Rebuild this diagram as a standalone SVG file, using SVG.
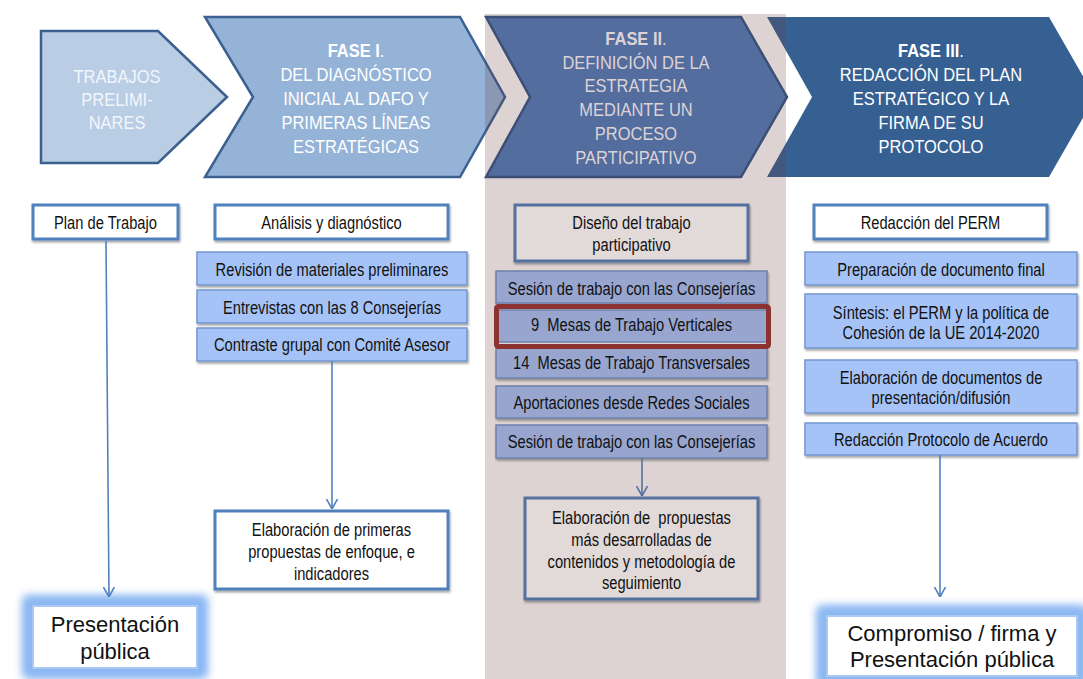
<svg xmlns="http://www.w3.org/2000/svg" width="1083" height="679" viewBox="0 0 1083 679">
<style>
.ch{font-family:"Liberation Sans",Arial,sans-serif;font-size:18.5px;fill:#ffffff;text-anchor:middle}
.ch2{fill:#ddd3d5}
.b{font-weight:bold}
.tx{font-family:"Liberation Sans",Arial,sans-serif;font-size:17.5px;fill:#111111;text-anchor:middle}
.pre{white-space:pre}
.big{font-family:"Liberation Sans",Arial,sans-serif;font-size:22px;fill:#111111;text-anchor:middle}
.wbox{fill:#ffffff;stroke:#4f81bd;stroke-width:3}
.wbox2{fill:#e2d9d9;stroke:#5571a0;stroke-width:3}
.lbox{fill:#a5c3f6;stroke:#7396cf;stroke-width:1.5}
.lbox2{fill:#98a6cf;stroke:#6e80ad;stroke-width:1.5}
.gbox{fill:#ffffff;stroke:#a9c9f3;stroke-width:2}
.cn{fill:none;stroke:#4f81bd;stroke-width:1.6}
.cn2{fill:none;stroke:#5571a0;stroke-width:1.6}
</style>
<defs>
<filter id="sh" x="-10%" y="-20%" width="125%" height="160%">
<feDropShadow dx="1" dy="2" stdDeviation="1.2" flood-color="#000" flood-opacity="0.35"/>
</filter>
<filter id="glow" x="-30%" y="-60%" width="160%" height="220%">
<feMorphology in="SourceAlpha" operator="dilate" radius="8" result="d"/>
<feGaussianBlur in="d" stdDeviation="5" result="bl"/>
<feFlood flood-color="#8db8f2"/>
<feComposite in2="bl" operator="in" result="g"/>
<feMerge><feMergeNode in="g"/><feMergeNode in="g"/><feMergeNode in="SourceGraphic"/></feMerge>
</filter>
<marker id="ah" viewBox="0 0 10 12" refX="10" refY="6" markerWidth="10" markerHeight="12" markerUnits="userSpaceOnUse" orient="auto">
<path d="M0,0.5 L10,6 L0,11.5" fill="none" stroke="#4f81bd" stroke-width="1.6"/>
</marker>
<marker id="ah2" viewBox="0 0 10 12" refX="10" refY="6" markerWidth="10" markerHeight="12" markerUnits="userSpaceOnUse" orient="auto">
<path d="M0,0.5 L10,6 L0,11.5" fill="none" stroke="#5571a0" stroke-width="1.6"/>
</marker>
</defs>
<rect width="1083" height="679" fill="#ffffff"/>

<g id="trabajos-preliminares">
<polygon points="41,31 158,31 227,97 158,163 41,163" fill="#b9cde5" stroke="#3b5f8e" stroke-width="2.5" stroke-linejoin="miter"/>
<text class="ch" style="fill:#f3f6fb" transform="matrix(0.89 0 0 1 117 0)"><tspan x="0" y="83">TRABAJOS</tspan><tspan x="0" y="106">PRELIMI-</tspan><tspan x="0" y="129">NARES</tspan></text>
</g>

<g id="fase-1">
<polygon points="205,17 460,17 505,97 460,177 205,177 253,97" fill="#95b3d7" stroke="#3c6090" stroke-width="2.5"/>
<text class="ch" transform="matrix(0.89 0 0 1 356 0)"><tspan x="0" y="57"><tspan class="b">FASE I</tspan>.</tspan><tspan x="0" y="81">DEL DIAGNÓSTICO</tspan><tspan x="0" y="105">INICIAL AL DAFO Y</tspan><tspan x="0" y="129">PRIMERAS LÍNEAS</tspan><tspan x="0" y="153">ESTRATÉGICAS</tspan></text>
</g>

<g id="fase-3">
<polygon points="767,17 1049,17 1095,97 1049,177 767,177 812,97" fill="#376092"/>
<text class="ch" transform="matrix(0.89 0 0 1 931 0)"><tspan x="0" y="57"><tspan class="b">FASE III</tspan>.</tspan><tspan x="0" y="81">REDACCIÓN DEL PLAN</tspan><tspan x="0" y="105">ESTRATÉGICO Y LA</tspan><tspan x="0" y="129">FIRMA DE SU</tspan><tspan x="0" y="153">PROTOCOLO</tspan></text>
</g>

<g id="fase-2-panel">
<rect x="485" y="14" width="301" height="665" fill="#683c3c" fill-opacity="0.226"/>
</g>

<g id="fase-2">
<polygon points="486,17 741,17 787,97 741,177 486,177 530,97" fill="#536d9f" stroke="#3d4f75" stroke-width="2.5"/>
<text class="ch ch2" transform="matrix(0.89 0 0 1 636 0)"><tspan x="0" y="45"><tspan class="b">FASE II</tspan>.</tspan><tspan x="0" y="69">DEFINICIÓN DE LA</tspan><tspan x="0" y="92.5">ESTRATEGIA</tspan><tspan x="0" y="116">MEDIANTE UN</tspan><tspan x="0" y="140">PROCESO</tspan><tspan x="0" y="164">PARTICIPATIVO</tspan></text>
</g>

<g id="plan-de-trabajo">
<rect class="wbox" x="33" y="205" width="145" height="34" filter="url(#sh)"/>
<text class="tx" transform="matrix(0.84 0 0 1 105.5 0)" x="0" y="229">Plan de Trabajo</text>
</g>

<g id="analisis">
<rect class="wbox" x="215" y="205" width="233" height="34" filter="url(#sh)"/>
<text class="tx" transform="matrix(0.84 0 0 1 331.5 0)" x="0" y="229">Análisis y diagnóstico</text>
</g>

<g id="revision">
<rect class="lbox" x="197" y="252" width="270" height="33" filter="url(#sh)"/>
<text class="tx" transform="matrix(0.84 0 0 1 332 0)" x="0" y="276">Revisión de materiales preliminares</text>
</g>
<g id="entrevistas">
<rect class="lbox" x="197" y="290" width="270" height="33" filter="url(#sh)"/>
<text class="tx" transform="matrix(0.84 0 0 1 332 0)" x="0" y="314">Entrevistas con las 8 Consejerías</text>
</g>
<g id="contraste">
<rect class="lbox" x="197" y="328" width="270" height="33" filter="url(#sh)"/>
<text class="tx" transform="matrix(0.84 0 0 1 332 0)" x="0" y="351">Contraste grupal con Comité Asesor</text>
</g>

<g id="elaboracion-primeras">
<rect class="wbox" x="215" y="511" width="233" height="78" filter="url(#sh)"/>
<text class="tx" transform="matrix(0.84 0 0 1 331.5 0)"><tspan x="0" y="536">Elaboración de primeras</tspan><tspan x="0" y="558">propuestas de enfoque, e</tspan><tspan x="0" y="580">indicadores</tspan></text>
</g>

<g id="diseno">
<rect class="wbox2" x="515" y="205" width="233" height="56" filter="url(#sh)"/>
<text class="tx" transform="matrix(0.84 0 0 1 631.5 0)"><tspan x="0" y="229">Diseño del trabajo</tspan><tspan x="0" y="251">participativo</tspan></text>
</g>

<g id="sesion-1">
<rect class="lbox2" x="496" y="271" width="271" height="32" filter="url(#sh)"/>
<text class="tx" transform="matrix(0.84 0 0 1 631.5 0)" x="0" y="295">Sesión de trabajo con las Consejerías</text>
</g>
<g id="mesas-14">
<rect class="lbox2" x="496" y="348" width="271" height="30" filter="url(#sh)"/>
<text class="tx pre" transform="matrix(0.84 0 0 1 631.5 0)" x="0" y="369">14  Mesas de Trabajo Transversales</text>
</g>
<g id="mesas-9">
<rect class="lbox2" x="496" y="310" width="271" height="32"/>
<rect x="496.5" y="306.5" width="272" height="40" rx="2" fill="none" stroke="#8c3231" stroke-width="5"/>
<text class="tx pre" transform="matrix(0.84 0 0 1 631.5 0)" x="0" y="331">9  Mesas de Trabajo Verticales</text>
</g>
<g id="aportaciones">
<rect class="lbox2" x="496" y="386" width="271" height="32" filter="url(#sh)"/>
<text class="tx" transform="matrix(0.84 0 0 1 631.5 0)" x="0" y="409">Aportaciones desde Redes Sociales</text>
</g>
<g id="sesion-2">
<rect class="lbox2" x="496" y="425" width="271" height="33" filter="url(#sh)"/>
<text class="tx" transform="matrix(0.84 0 0 1 631.5 0)" x="0" y="448">Sesión de trabajo con las Consejerías</text>
</g>

<g id="elaboracion-propuestas">
<rect class="wbox2" x="525" y="498" width="233" height="101" filter="url(#sh)"/>
<text class="tx pre" transform="matrix(0.84 0 0 1 641.5 0)"><tspan x="0" y="524">Elaboración de  propuestas</tspan><tspan x="0" y="546">más desarrolladas de</tspan><tspan x="0" y="568">contenidos y metodología de</tspan><tspan x="0" y="589">seguimiento</tspan></text>
</g>

<g id="redaccion-perm">
<rect class="wbox" x="814" y="205" width="233" height="34" filter="url(#sh)"/>
<text class="tx" transform="matrix(0.84 0 0 1 930.5 0)" x="0" y="229">Redacción del PERM</text>
</g>
<g id="preparacion">
<rect class="lbox" x="805" y="252" width="272" height="33" filter="url(#sh)"/>
<text class="tx" transform="matrix(0.84 0 0 1 941 0)" x="0" y="276">Preparación de documento final</text>
</g>
<g id="sintesis">
<rect class="lbox" x="805" y="294" width="272" height="54" filter="url(#sh)"/>
<text class="tx" transform="matrix(0.84 0 0 1 941 0)"><tspan x="0" y="319">Síntesis: el PERM y la política de</tspan><tspan x="0" y="339">Cohesión de la UE 2014-2020</tspan></text>
</g>
<g id="elaboracion-documentos">
<rect class="lbox" x="805" y="360" width="272" height="53" filter="url(#sh)"/>
<text class="tx" transform="matrix(0.84 0 0 1 941 0)"><tspan x="0" y="384">Elaboración de documentos de</tspan><tspan x="0" y="404">presentación/difusión</tspan></text>
</g>
<g id="redaccion-protocolo">
<rect class="lbox" x="805" y="423" width="272" height="32" filter="url(#sh)"/>
<text class="tx" transform="matrix(0.84 0 0 1 941 0)" x="0" y="446">Redacción Protocolo de Acuerdo</text>
</g>

<g id="presentacion-publica">
<rect class="gbox" x="33" y="606" width="164" height="62" filter="url(#glow)"/>
<text class="big"><tspan x="115" y="632">Presentación</tspan><tspan x="115" y="659">pública</tspan></text>
</g>

<g id="compromiso">
<rect class="gbox" x="827" y="616" width="250" height="60" filter="url(#glow)"/>
<text class="big"><tspan x="952" y="641">Compromiso / firma y</tspan><tspan x="952" y="667">Presentación pública</tspan></text>
</g>

<g id="connectors">
<path class="cn" d="M106,241 L109,597" marker-end="url(#ah)"/>
<path class="cn" d="M332,361 L332,509" marker-end="url(#ah)"/>
<path class="cn2" d="M642,458 L642,496" marker-end="url(#ah2)"/>
<path class="cn" d="M940,455 L940,597" marker-end="url(#ah)"/>
</g>
</svg>
